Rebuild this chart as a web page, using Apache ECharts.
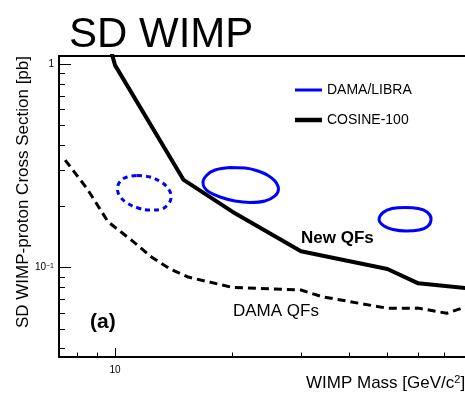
<!DOCTYPE html>
<html><head><meta charset="utf-8">
<script src="https://cdn.jsdelivr.net/npm/echarts@6/dist/echarts.min.js"></script>
<style>html,body{margin:0;padding:0;background:#fff}#c{width:465px;height:393px}</style>
</head><body><div id="c"></div>
<script>
const FONT = '"Liberation Sans", Arial, Helvetica, sans-serif';

// ---- data (WIMP mass in GeV/c^2, cross section in pb) ----
const cosineMass  = [9.5, 10, 15, 20, 30, 50, 60, 80];
const cosineSigma = [1.42, 0.99, 0.27, 0.1885, 0.1204, 0.0985, 0.0838, 0.0792];

const damaQfMass  = [7.45, 8.5, 9.6, 11, 12.4, 13.8, 15.4, 20, 30, 34, 50, 60, 71, 80];
const damaQfSigma = [0.338, 0.243, 0.168, 0.137, 0.113, 0.099, 0.090, 0.080, 0.0777, 0.072, 0.0632, 0.0633, 0.0597, 0.0645];

// DAMA/LIBRA regions (closed contours)
const libraAMass  = [19.73, 21.56, 23.28, 24.70, 25.73, 26.27, 25.73, 24.26, 22.20, 20.32, 18.60, 17.43, 16.92, 16.82, 17.22, 18.06, 19.73];
const libraASigma = [0.3108, 0.3091, 0.2987, 0.2840, 0.2669, 0.2437, 0.2252, 0.2128, 0.2093, 0.2128, 0.2227, 0.2356, 0.2493, 0.2638, 0.2856, 0.3021, 0.3108];

const libraBMass  = [55.49, 59.92, 63.19, 64.70, 63.57, 60.28, 55.81, 51.68, 49.01, 47.59, 48.73, 51.38, 55.49];
const libraBSigma = [0.1977, 0.1955, 0.1878, 0.1736, 0.1603, 0.1532, 0.1515, 0.1541, 0.1603, 0.1726, 0.1868, 0.1955, 0.1977];

const libraQfMass  = [11.39, 12.30, 13.12, 13.72, 13.93, 13.64, 13.05, 12.30, 11.46, 10.74, 10.30, 10.15, 10.30, 10.74, 11.39];
const libraQfSigma = [0.2840, 0.2792, 0.2638, 0.2437, 0.2227, 0.2034, 0.1932, 0.1922, 0.1965, 0.2080, 0.2239, 0.2437, 0.2653, 0.2792, 0.2840];

// axes (visible range of the cropped frame)
const xRange = [7.183, 79.07];
const yRange = [0.0364, 1.098];
const xMajorTicks = [10];
const xMinorTicks = [8, 9, 20, 30, 40, 50, 60, 70];
const yMajorTicks = [0.1, 1];
const yMinorTicks = [0.04, 0.05, 0.06, 0.07, 0.08, 0.09, 0.2, 0.3, 0.4, 0.5, 0.6, 0.7, 0.8, 0.9];

function zip(a, b) { return a.map((v, i) => [v, b[i]]); }

const chart = echarts.init(document.getElementById('c'), null, {renderer: 'canvas'});

const tickStyle = {color: '#000', width: 1};
const frameLine = {show: true, onZero: false, lineStyle: {color: '#000', width: 2}};

chart.setOption({
  animation: false,
  backgroundColor: '#fff',
  title: {
    text: 'SD WIMP', left: 64, top: 9,
    textStyle: {fontSize: 42, fontWeight: 'normal', color: '#000', fontFamily: FONT}
  },
  legend: [
    {orient: 'vertical', left: 290, top: 78,
     itemWidth: 27, itemHeight: 3, selectedMode: false,
     data: [{name: 'DAMA/LIBRA', icon: 'rect'}],
     textStyle: {fontSize: 14, color: '#000', fontFamily: FONT}},
    {orient: 'vertical', left: 290, top: 108,
     itemWidth: 27, itemHeight: 4.5, selectedMode: false,
     data: [{name: 'COSINE-100', icon: 'rect'}],
     textStyle: {fontSize: 14, color: '#000', fontFamily: FONT}}
  ],
  grid: {left: 59, top: 56, bottom: 36, right: 0, show: false, containLabel: false},
  xAxis: [
    {type: 'log', min: xRange[0], max: xRange[1], position: 'bottom',
     axisLine: frameLine, splitLine: {show: false},
     axisTick: {show: true, inside: true, length: 9, lineStyle: tickStyle, customValues: xMajorTicks},
     axisLabel: {customValues: xMajorTicks, fontSize: 10, color: '#000', fontFamily: FONT, margin: 8,
                 formatter: v => String(Math.round(v))}},
    {type: 'log', min: xRange[0], max: xRange[1], position: 'bottom',
     axisLine: {show: false}, splitLine: {show: false},
     axisTick: {show: true, inside: true, length: 4.5, lineStyle: tickStyle, customValues: xMinorTicks},
     axisLabel: {show: false}},
    {type: 'log', min: xRange[0], max: xRange[1], position: 'top',
     axisLine: frameLine, splitLine: {show: false},
     axisTick: {show: false}, axisLabel: {show: false}}
  ],
  yAxis: [
    {type: 'log', min: yRange[0], max: yRange[1], position: 'left',
     axisLine: frameLine, splitLine: {show: false},
     axisTick: {show: true, inside: true, length: 12, lineStyle: tickStyle, customValues: yMajorTicks},
     axisLabel: {customValues: yMajorTicks, fontSize: 10, color: '#000', fontFamily: FONT, margin: 5,
                 formatter: v => (v > 0.5 ? '1' : '10{sup|−1}'),
                 rich: {sup: {fontSize: 7, verticalAlign: 'top', fontFamily: FONT, color: '#000'}}}},
    {type: 'log', min: yRange[0], max: yRange[1], position: 'left',
     axisLine: {show: false}, splitLine: {show: false},
     axisTick: {show: true, inside: true, length: 6, lineStyle: tickStyle, customValues: yMinorTicks},
     axisLabel: {show: false}}
  ],
  series: [
    {name: 'DAMA/LIBRA', type: 'line', symbol: 'none', smooth: 0.4, z: 3,
     lineStyle: {color: '#0000ff', width: 3}, itemStyle: {color: '#0000ff'},
     data: zip(libraAMass, libraASigma)},
    {name: 'DAMA/LIBRA', type: 'line', symbol: 'none', smooth: 0.4, z: 3,
     lineStyle: {color: '#0000ff', width: 3}, itemStyle: {color: '#0000ff'},
     data: zip(libraBMass, libraBSigma)},
    {name: 'DAMA/LIBRA (DAMA QFs)', type: 'line', symbol: 'none', smooth: 0.4, z: 3,
     lineStyle: {color: '#0000ff', width: 3, type: [5, 4]}, itemStyle: {color: '#0000ff'},
     data: zip(libraQfMass, libraQfSigma)},
    {name: 'COSINE-100', type: 'line', symbol: 'none', z: 4,
     lineStyle: {color: '#000', width: 4}, itemStyle: {color: '#000'},
     data: zip(cosineMass, cosineSigma)},
    {name: 'COSINE-100 (DAMA QFs)', type: 'line', symbol: 'none', z: 4,
     lineStyle: {color: '#000', width: 3, type: [8, 5]}, itemStyle: {color: '#000'},
     data: zip(damaQfMass, damaQfSigma)}
  ],
  graphic: [
    {type: 'text', x: 23, y: 56, rotation: Math.PI / 2,
     style: {text: 'SD WIMP-proton Cross Section [pb]', fill: '#000', font: '17px ' + FONT,
             align: 'right', textAlign: 'right', verticalAlign: 'middle', textVerticalAlign: 'middle'}},
    {type: 'text', x: 306, y: 383,
     style: {text: 'WIMP Mass [GeV/c{sup|2}]', fill: '#000', font: '17px ' + FONT,
             align: 'left', textAlign: 'left', verticalAlign: 'middle', textVerticalAlign: 'middle',
             rich: {sup: {fontSize: 11, verticalAlign: 'top', fill: '#000', fontFamily: FONT}}}},
    {type: 'text', x: 301, y: 238,
     style: {text: 'New QFs', fill: '#000', font: 'bold 17px ' + FONT,
             align: 'left', textAlign: 'left', verticalAlign: 'middle', textVerticalAlign: 'middle'}},
    {type: 'text', x: 233, y: 311,
     style: {text: 'DAMA QFs', fill: '#000', font: '17px ' + FONT,
             align: 'left', textAlign: 'left', verticalAlign: 'middle', textVerticalAlign: 'middle'}},
    {type: 'text', x: 90, y: 322,
     style: {text: '(a)', fill: '#000', font: 'bold 21px ' + FONT,
             align: 'left', textAlign: 'left', verticalAlign: 'middle', textVerticalAlign: 'middle'}}
  ]
});
</script></body></html>
